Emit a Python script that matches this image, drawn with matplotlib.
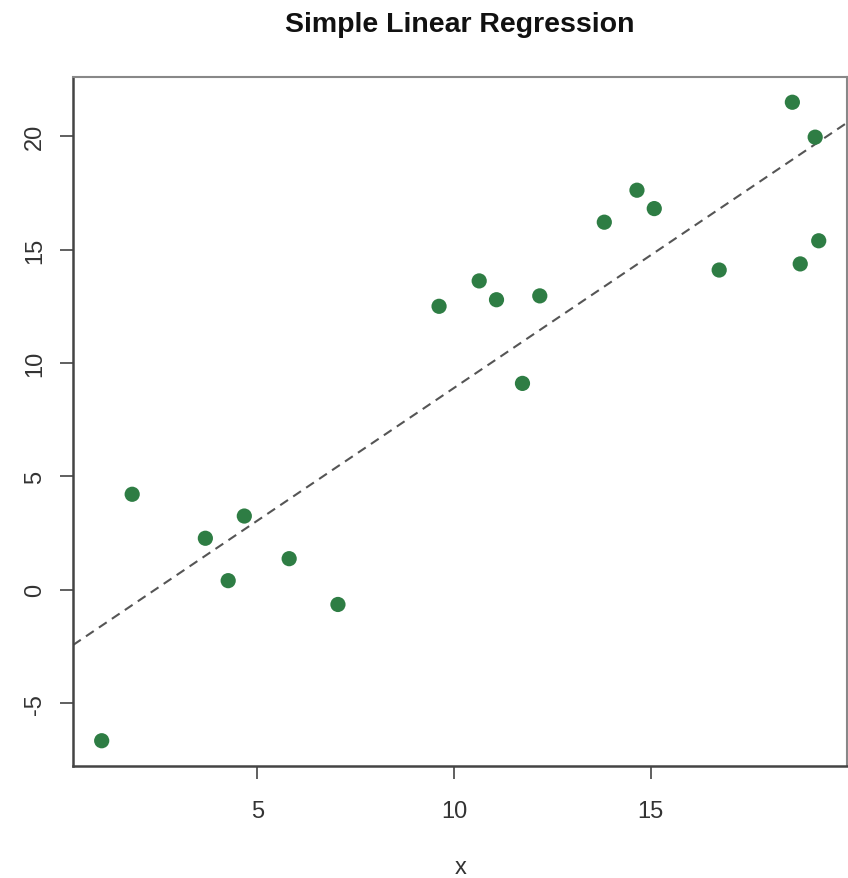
import numpy as np
import matplotlib
matplotlib.use("Agg")
import matplotlib.pyplot as plt

plt.rcParams['font.family'] = ['Liberation Sans', 'DejaVu Sans']
plt.rcParams['axes.unicode_minus'] = False

x_vals = [1.045, 1.82, 3.68, 4.26, 4.67, 5.81, 7.05, 9.62, 10.64, 11.08,
          11.74, 12.18, 13.82, 14.65, 15.09, 16.74, 18.60, 19.18, 18.80, 19.27]
y_vals = [-6.66, 4.21, 2.27, 0.40, 3.25, 1.37, -0.65, 12.50, 13.62, 12.79,
          9.10, 12.96, 16.21, 17.62, 16.81, 14.10, 21.50, 19.96, 14.37, 15.39]
x_ticks = [5, 10, 15]
y_ticks = [-5, 0, 5, 10, 15, 20]
title = "Simple Linear Regression"
x_label = "x"

x = np.array(x_vals)
y = np.array(y_vals)
slope, intercept = np.polyfit(x, y, 1)

fig = plt.figure(figsize=(8.48, 8.79), dpi=100)
ax = fig.add_axes([0.0861, 0.1271, 0.9132, 0.7845])

ax.scatter(x, y, s=120, color='#2e7d44', edgecolors='none', zorder=3)
ax.axline((0, intercept), slope=slope, color='#555555', linewidth=1.5,
          dashes=(4.5, 3), zorder=2)

xr = x.max() - x.min()
yr = y.max() - y.min()
ax.set_xlim(x.min() - 0.04 * xr, x.max() + 0.04 * xr)
ax.set_ylim(y.min() - 0.04 * yr, y.max() + 0.04 * yr)

ax.set_xticks(x_ticks)
ax.set_yticks(y_ticks)
ax.tick_params(axis='both', length=9.5, width=1.2, color='#444444',
               labelsize=17, labelcolor='#333333')
ax.tick_params(axis='x', pad=15)
ax.tick_params(axis='y', pad=10)
for lab in ax.get_yticklabels():
    lab.set_rotation(90)
    lab.set_va('center')

for side in ['top', 'right']:
    ax.spines[side].set_color('#888888')
    ax.spines[side].set_linewidth(1.5)
for side in ['left', 'bottom']:
    ax.spines[side].set_color('#444444')
    ax.spines[side].set_linewidth(1.8)

ax.set_xlabel(x_label, fontsize=17, color='#333333', labelpad=24)
fig.text(0.5425, 0.9635, title, ha='center', va='baseline', fontsize=20.5,
         fontweight='bold', color='#111111')

fig.savefig('out.png', dpi=100, facecolor='white')
